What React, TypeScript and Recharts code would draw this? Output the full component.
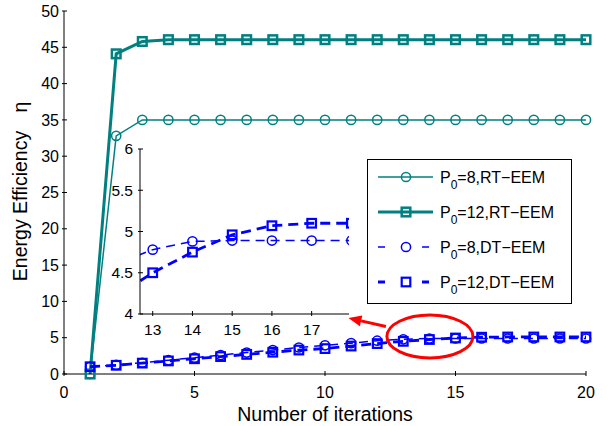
import React from 'react';
import { LineChart, Line, XAxis, YAxis, Legend, ReferenceDot, CartesianGrid } from 'recharts';

const iterations = [1, 2, 3, 4, 5, 6, 7, 8, 9, 10, 11, 12, 13, 14, 15, 16, 17, 18, 19, 20];
const rtP8 = [0, 32.8, 35, 35, 35, 35, 35, 35, 35, 35, 35, 35, 35, 35, 35, 35, 35, 35, 35, 35];
const rtP12 = [0, 44.1, 45.8, 46.05, 46.05, 46.05, 46.05, 46.05, 46.05, 46.05, 46.05, 46.05, 46.05, 46.05, 46.05, 46.05, 46.05, 46.05, 46.05, 46.05];
const dtP8 = [1.0, 1.25, 1.55, 1.9, 2.25, 2.6, 2.95, 3.3, 3.65, 3.95, 4.25, 4.59, 4.78, 4.88, 4.89, 4.89, 4.89, 4.89, 4.89, 4.89];
const dtP12 = [1.0, 1.2, 1.5, 1.8, 2.1, 2.4, 2.7, 3.0, 3.3, 3.5, 3.85, 4.19, 4.5, 4.75, 4.96, 5.07, 5.1, 5.1, 5.1, 5.1];

const mainXTicks = [0, 5, 10, 15, 20];
const mainYTicks = [0, 5, 10, 15, 20, 25, 30, 35, 40, 45, 50];
const insetXTicks = [13, 14, 15, 16, 17];
const insetYTicks = [4, 4.5, 5, 5.5, 6];

const calloutPoint = { x: 14.02, y: 5.17 };

const rows = iterations.map((x, i) => ({ x, rt8: rtP8[i], rt12: rtP12[i], dt8: dtP8[i], dt12: dtP12[i] }));

const FONT = '"Liberation Sans", Arial, Helvetica, sans-serif';
const TEAL = '#008080';
const BLUE = '#0000ff';

type Cfg = { key: string; sub: string; rest: string; color: string; width: number; dash?: string; marker: 'circle' | 'square'; mw: number };
const series: Cfg[] = [
  { key: 'rt8', sub: '0', rest: '=8,RT\u2212EEM', color: TEAL, width: 1.5, marker: 'circle', mw: 1.5 },
  { key: 'rt12', sub: '0', rest: '=12,RT\u2212EEM', color: TEAL, width: 3, marker: 'square', mw: 2.5 },
  { key: 'dt8', sub: '0', rest: '=8,DT\u2212EEM', color: BLUE, width: 1.5, dash: '9 6', marker: 'circle', mw: 1.5 },
  { key: 'dt12', sub: '0', rest: '=12,DT\u2212EEM', color: BLUE, width: 2.8, dash: '10 6', marker: 'square', mw: 2.2 },
];

function markerEl(kind: 'circle' | 'square', cx: number, cy: number, color: string, sw: number, key?: any) {
  if (kind === 'circle') {
    return <circle key={key} cx={cx} cy={cy} r={4.6} fill="none" stroke={color} strokeWidth={sw} />;
  }
  return <rect key={key} x={cx - 4.3} y={cy - 4.3} width={8.6} height={8.6} fill="none" stroke={color} strokeWidth={sw} />;
}

const makeDot = (c: Cfg) => (props: any) => {
  const { cx, cy, index } = props;
  if (cx == null || cy == null) return <g key={index} />;
  return markerEl(c.marker, cx, cy, c.color, c.mw, index);
};

const BottomTick = (size: number, off: number) => (props: any) => {
  const { x, y, payload } = props;
  return (
    <g>
      <line x1={x} x2={x} y1={y} y2={y - 5} stroke="#000" strokeWidth={1} />
      <text x={x} y={y + off} dy="0.35em" textAnchor="middle" fontSize={size} fontFamily={FONT} fill="#000">{payload.value}</text>
    </g>
  );
};
const TopTick = (props: any) => {
  const { x, y } = props;
  return <line x1={x} x2={x} y1={y} y2={y + 5} stroke="#000" strokeWidth={1} />;
};
const LeftTick = (size: number, off: number) => (props: any) => {
  const { x, y, payload } = props;
  return (
    <g>
      <line x1={x} x2={x + 5} y1={y} y2={y} stroke="#000" strokeWidth={1} />
      <text x={x - off} y={y} dy="0.35em" textAnchor="end" fontSize={size} fontFamily={FONT} fill="#000">{payload.value}</text>
    </g>
  );
};
const RightTick = (props: any) => {
  const { x, y } = props;
  return <line x1={x} x2={x - 5} y1={y} y2={y} stroke="#000" strokeWidth={1} />;
};

const XLabel = (props: any) => {
  const vb = props.viewBox || {};
  return (
    <text x={vb.x + vb.width / 2} y={414} dy="0.35em" textAnchor="middle" fontSize={19.5} fontFamily={FONT} fill="#000">
      Number of iterations
    </text>
  );
};
const YLabel = () => (
  <g>
    <text x={20} y={206} dy="0.35em" transform="rotate(-90 20 206)" textAnchor="middle" fontSize={19.5} fontFamily={FONT} fill="#000">
      Energy Efficiency
    </text>
    <text x={20} y={107} dy="0.35em" transform="rotate(-90 20 107)" textAnchor="middle" fontSize={19.5} fontFamily={FONT} fill="#000">
      η
    </text>
  </g>
);

const Callout = (props: any) => {
  const { cx, cy } = props;
  const tail = { x: cx - 44, y: cy - 10 };
  const tip = { x: cx - 81.5, y: cy - 18.5 };
  const dx = tip.x - tail.x, dy = tip.y - tail.y;
  const len = Math.sqrt(dx * dx + dy * dy);
  const ux = dx / len, uy = dy / len;
  const bx = tip.x - 13 * ux, by = tip.y - 13 * uy;
  const px = -uy, py = ux;
  const pts = `${tip.x},${tip.y} ${bx + 5.5 * px},${by + 5.5 * py} ${bx - 5.5 * px},${by - 5.5 * py}`;
  return (
    <g>
      <ellipse cx={cx} cy={cy} rx={43} ry={21.5} fill="none" stroke="#ff0000" strokeWidth={3} />
      <line x1={tail.x} y1={tail.y} x2={bx} y2={by} stroke="#ff0000" strokeWidth={3} />
      <polygon points={pts} fill="#ff0000" />
    </g>
  );
};

const LegendBox = () => {
  const rowY = [18, 53, 88, 123];
  return (
    <svg width={206} height={146} style={{ display: 'block' }}>
      <rect x={0.5} y={0.5} width={204} height={144} fill="#fff" stroke="#000" strokeWidth={1} />
      {series.map((c, i) => (
        <g key={c.key}>
          <line x1={11} x2={66} y1={rowY[i]} y2={rowY[i]} stroke={c.color} strokeWidth={c.width} strokeDasharray={c.dash ? '7 37' : undefined} />
          {markerEl(c.marker, 39, rowY[i], c.color, c.mw)}
          <text x={73} y={rowY[i]} dy="0.35em" fontSize={16} fontFamily={FONT} fill="#000">
            P<tspan fontSize={12} dy={6}>{c.sub}</tspan><tspan dy={-6}>{c.rest}</tspan>
          </text>
        </g>
      ))}
    </svg>
  );
};

export default function App() {
  return (
    <div style={{ position: 'absolute', left: 0, top: 0, width: 613, height: 426, background: '#fff', fontFamily: FONT }}>
      <LineChart width={613} height={426} data={rows} margin={{ top: 11, right: 27, bottom: 0, left: 0 }}>
        <XAxis dataKey="x" type="number" domain={[0, 20]} ticks={mainXTicks} height={52} tickSize={0} tickLine={false}
          tick={BottomTick(16, 16)} axisLine={{ stroke: '#000' }} label={<XLabel />} />
        <XAxis xAxisId="top" orientation="top" dataKey="x" type="number" domain={[0, 20]} ticks={mainXTicks} height={0}
          tickSize={0} tickLine={false} tick={TopTick} axisLine={{ stroke: '#000' }} />
        <YAxis type="number" domain={[0, 50]} ticks={mainYTicks} width={64} tickSize={0} tickLine={false}
          tick={LeftTick(16, 3)} axisLine={{ stroke: '#000' }} label={<YLabel />} />
        <YAxis yAxisId="right" orientation="right" type="number" domain={[0, 50]} ticks={mainYTicks} width={0}
          tickSize={0} tickLine={false} tick={RightTick} axisLine={{ stroke: '#000' }} />
        {series.map((c) => (
          <Line key={c.key} dataKey={c.key} type="linear" stroke={c.color} strokeWidth={c.width}
            strokeDasharray={c.dash} dot={makeDot(c)} activeDot={false} isAnimationActive={false} />
        ))}
        <ReferenceDot x={calloutPoint.x} y={calloutPoint.y} r={0} shape={Callout} />
        <Legend layout="horizontal" verticalAlign="middle" align="center" content={<LegendBox />}
          wrapperStyle={{ position: 'absolute', left: 367, top: 159, width: 206, height: 146 }} />
      </LineChart>
      <div style={{ position: 'absolute', left: 100, top: 139 }}>
        <LineChart width={254} height={205} data={rows} margin={{ top: 10, right: 5, bottom: 0, left: 0 }}>
          <CartesianGrid fill="#fff" horizontal={false} vertical={false} />
          <XAxis dataKey="x" type="number" domain={[12.68, 17.94]} allowDataOverflow ticks={insetXTicks} height={30}
            tickSize={0} tickLine={false} tick={BottomTick(15.5, 14)} axisLine={{ stroke: '#000' }} />
          <XAxis xAxisId="top" orientation="top" dataKey="x" type="number" domain={[12.68, 17.94]} allowDataOverflow
            ticks={insetXTicks} height={0} tickSize={0} tickLine={false} tick={TopTick} axisLine={{ stroke: '#000' }} />
          <YAxis type="number" domain={[4, 6]} allowDataOverflow ticks={insetYTicks} width={40} tickSize={0} tickLine={false}
            tick={LeftTick(15.5, 5)} axisLine={{ stroke: '#000' }} />
          <YAxis yAxisId="right" orientation="right" type="number" domain={[4, 6]} allowDataOverflow ticks={insetYTicks}
            width={0} tickSize={0} tickLine={false} tick={RightTick} axisLine={{ stroke: '#000' }} />
          {series.slice(2).map((c) => (
            <Line key={c.key} dataKey={c.key} type="linear" stroke={c.color} strokeWidth={c.width}
              strokeDasharray={c.dash} dot={makeDot(c)} activeDot={false} isAnimationActive={false} />
          ))}
        </LineChart>
      </div>
    </div>
  );
}
